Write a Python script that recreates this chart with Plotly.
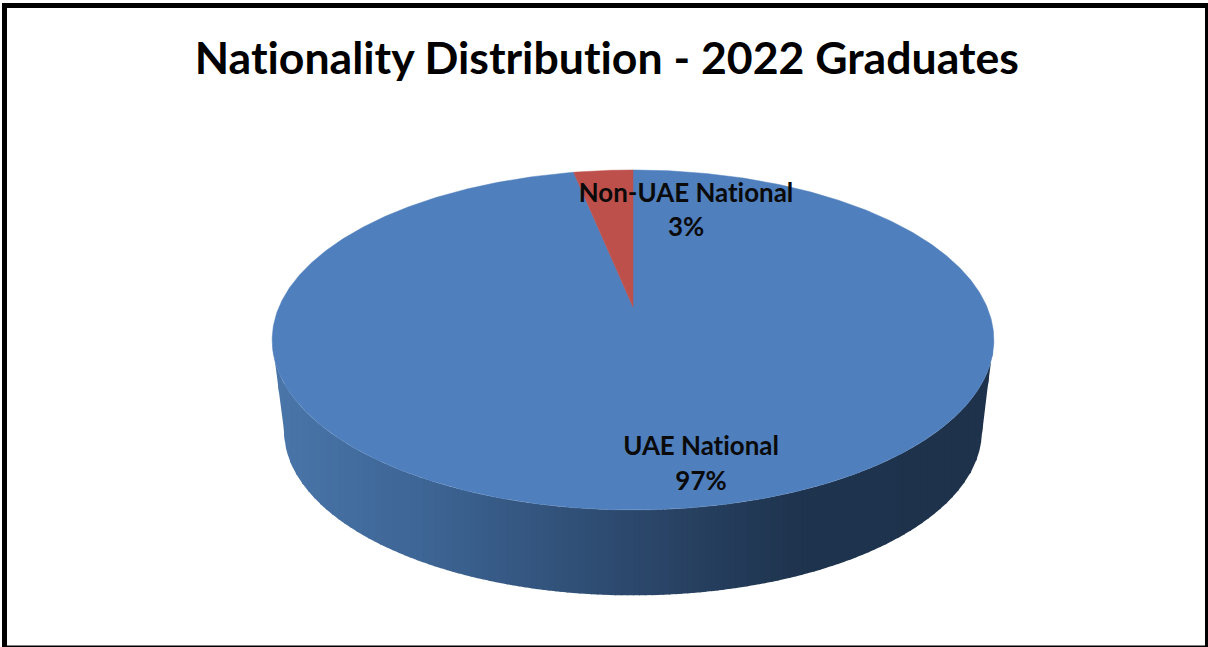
import numpy as np
import plotly.graph_objects as go

# --- data ---
categories = ["UAE National", "Non-UAE National"]
shares = [96.8, 3.2]
title_text = "Nationality Distribution - 2022 Graduates"

# --- style / geometry of the tilted pie, in page pixels ---
W, H = 1208, 647
colors = ["#4F7FBC", "#BE504C"]
APEX_X, APEX_Y = 633, 307
A, B, K = 354.0, 163.6, 0.194     # projection of the unit disc
WALL_SCALE, ELL_CY, WALL_CY = 0.967, 340, 431
wall_stops = [(272, (74, 118, 170)), (420, (62, 102, 150)), (633, (44, 72, 108)),
              (800, (31, 52, 78)), (994, (30, 50, 76))]
label_anchor = {"UAE National": (701, 449, 484), "Non-UAE National": (686, 196, 230)}


def project(theta_deg):
    t = np.radians(theta_deg)
    u, v = np.sin(t), np.cos(t)
    d = 1 + K * v
    return APEX_X + A * u / d, APEX_Y - B * v / d


def project_bottom(theta_deg):
    x, y = project(theta_deg)
    return APEX_X + (x - APEX_X) * WALL_SCALE, WALL_CY + (y - ELL_CY) * WALL_SCALE


def wall_color(x):
    xs = [s[0] for s in wall_stops]
    rgb = [np.interp(x, xs, [s[1][i] for s in wall_stops]) for i in range(3)]
    return "rgb(%d,%d,%d)" % tuple(rgb)


fig = go.Figure()

# Side wall: silhouette of the front rim cut into vertical strips, left to right
sweep = np.linspace(300, 60, 1441)
sx, _ = project(sweep)
front = np.linspace(sweep[np.argmin(sx)], sweep[np.argmax(sx)], 721)
xt, yt = project(front)
xb, yb = project_bottom(front)
low_x = np.r_[xt[0], xb, xt[-1]]
low_y = np.r_[yt[0], yb, yt[-1]]
edges = np.linspace(xt[0], xt[-1], 121)
for x0, x1 in zip(edges[:-1], edges[1:]):
    xs = np.linspace(x0, min(x1 + 1.0, edges[-1]), 5)
    upper = np.interp(xs, xt, yt)
    lower = np.interp(xs, low_x, low_y)
    fig.add_trace(go.Scatter(
        x=np.r_[xs, xs[::-1]], y=np.r_[upper, lower[::-1]], mode="lines", fill="toself",
        fillcolor=wall_color((x0 + x1) / 2), line=dict(width=0),
        hoverinfo="skip", showlegend=False))

# Top face: wedges computed from the shares, clockwise from 12 o'clock
start = 0.0
total = sum(shares)
for name, val, col in zip(categories, shares, colors):
    end = start + 360 * val / total
    th = np.linspace(start, end, max(8, int(end - start) * 2))
    xs, ys = project(th)
    fig.add_trace(go.Scatter(
        x=np.r_[APEX_X, xs, APEX_X], y=np.r_[APEX_Y, ys, APEX_Y], mode="lines",
        fill="toself", fillcolor=col, line=dict(color=col, width=0.5),
        name=name, hoverinfo="name", showlegend=False))
    start = end

# Data labels
lx, ly, lt = [], [], []
for name, val in zip(categories, shares):
    ax, y1, y2 = label_anchor[name]
    lx += [ax, ax]
    ly += [y1, y2]
    lt += ["<b>%s</b>" % name, "<b>%d%%</b>" % round(val)]
fig.add_trace(go.Scatter(
    x=lx, y=ly, text=lt, mode="text", textposition="middle center",
    textfont=dict(family="Lato", size=25.9, color="#0a0a0a"),
    hoverinfo="skip", showlegend=False))

# Outer frame of the picture
frame = [(2, 3, 7, 647), (2, 3, 1208, 8), (1205, 3, 1208, 647), (2, 645.5, 1208, 647)]
shapes = [dict(type="rect", xref="x", yref="y", x0=a, y0=b, x1=c, y1=d,
               fillcolor="black", line_width=0, layer="above") for a, b, c, d in frame]

fig.update_layout(
    width=W, height=H, margin=dict(l=0, r=0, t=0, b=0),
    paper_bgcolor="white", plot_bgcolor="white", shapes=shapes,
    xaxis=dict(range=[0, W], visible=False, fixedrange=True),
    yaxis=dict(range=[H, 0], visible=False, fixedrange=True),
    annotations=[dict(text="<b>%s</b>" % title_text, xref="x", yref="y", x=606.5, y=56,
                      xanchor="center", yanchor="middle", showarrow=False,
                      font=dict(family="Lato", size=44.6, color="black"))],
)
fig.write_html(
    "out.html",
    config={"displayModeBar": False},
    post_script=(
        "document.body.style.margin='0';document.body.style.overflow='hidden';"
        "var s=document.createElement('style');"
        "s.textContent='svg text{font-variant-ligatures:none !important}';"
        "document.head.appendChild(s);"
    ),
)
